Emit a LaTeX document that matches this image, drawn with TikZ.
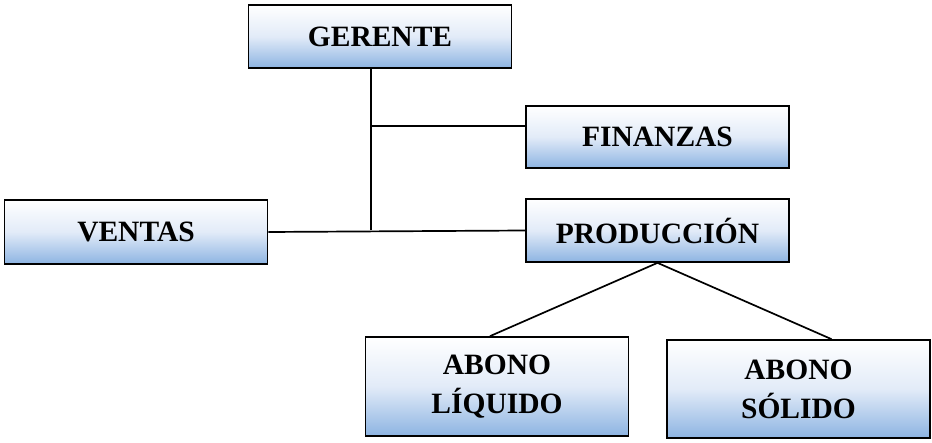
\documentclass[tikz,border=0pt]{standalone}
\usepackage{fontspec}
\setmainfont{Liberation Serif}
\usetikzlibrary{positioning,calc}
\definecolor{azulcargo}{RGB}{141,180,226}
\definecolor{azulmedio}{RGB}{226,235,248}

\tikzset{
	cargo/.style={draw=black,line width=1.7pt,top color=white,bottom color=azulcargo,middle color=azulmedio,minimum width=263pt,minimum height=63pt,align=center,font=\fontsize{29.5}{39}\selectfont\bfseries,inner sep=0pt},
	linea/.style={line width=1.7pt}
}

\begin{document}
\begin{tikzpicture}[x=1pt,y=-1pt]
	\useasboundingbox (0,0) rectangle (932,443);
	\node (Gerente) [cargo] at (380,36.5) {GERENTE};
	\node (Finanzas) [cargo,minimum height=62pt] at (657.5,137) {FINANZAS};
	\node (Ventas) [cargo,minimum height=64pt] at (136,232) {VENTAS};
	\node (Produccion) [cargo] at (657.5,230.5) {PRODUCCIÓN};
	\node (Liquido) [cargo,minimum height=99pt] at (497,386.5) {ABONO\\LÍQUIDO};
	\node (Solido) [cargo,minimum height=98pt] at (798.5,389) {ABONO\\SÓLIDO};
	\coordinate (nudo) at (371,230);
	\coordinate (rama) at (371,126);
	\draw[linea] (Gerente.south -| nudo) -- (nudo);
	\draw[linea] (rama) -- (rama -| Finanzas.west);
	\draw[linea] (Ventas.east) -- (Produccion.west);
	\draw[linea] (Produccion.south) -- ([xshift=-7pt]Liquido.north);
	\draw[linea] (Produccion.south) -- ([xshift=33pt]Solido.north);
\end{tikzpicture}
\end{document}
